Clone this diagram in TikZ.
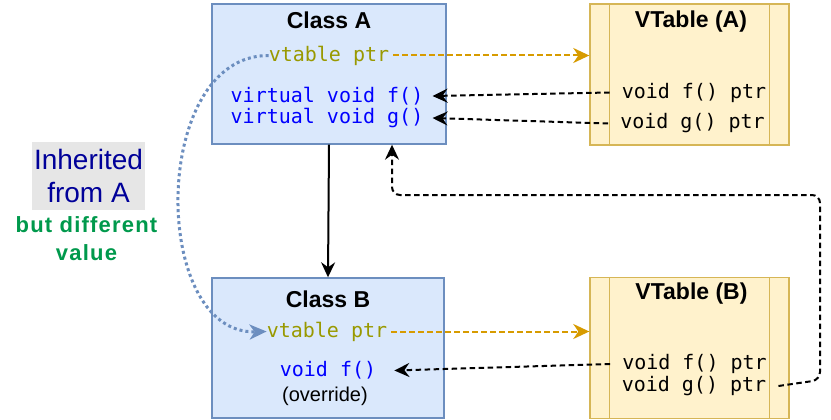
\documentclass[tikz,border=0pt]{standalone}
\usepackage{fontspec}
\setmainfont{Liberation Sans}
\newfontfamily\codefont{DejaVu Sans Mono}
\newfontfamily\spacedfont{Liberation Sans}[LetterSpace=5.5]
\usetikzlibrary{arrows.meta}

\definecolor{boxblue}{HTML}{DAE8FC}
\definecolor{lineblue}{HTML}{6C8EBF}
\definecolor{boxyellow}{HTML}{FFF2CC}
\definecolor{lineyellow}{HTML}{D6B656}
\definecolor{ptrorange}{HTML}{D79B00}
\definecolor{ptrolive}{HTML}{999900}
\definecolor{codeblue}{HTML}{0000FF}
\definecolor{notenavy}{HTML}{000099}
\definecolor{notegray}{HTML}{E6E6E6}
\definecolor{notegreen}{HTML}{00994C}

\begin{document}
\begin{tikzpicture}[x=1pt,y=-1pt,color=black,
  classbox/.style={draw=lineblue,fill=boxblue,line width=1.4pt,minimum height=140pt,inner sep=0pt},
  tablebox/.style={draw=lineyellow,fill=boxyellow,line width=1.4pt,minimum width=199pt,minimum height=141pt,inner sep=0pt},
  boxtitle/.style={font=\fontsize{23}{26}\selectfont\bfseries,inner sep=0pt},
  code/.style={font=\codefont\fontsize{20}{24}\selectfont,inner sep=0pt},
  tableentry/.style={code,inner xsep=12pt},
  ptrarrow/.style={ptrorange,line width=2pt,dash pattern=on 5.5pt off 3.5pt,-{Stealth[length=16pt,width=15pt,inset=5pt]}},
  refarrow/.style={line width=2pt,dash pattern=on 5.5pt off 3.5pt,-{Stealth[length=15pt,width=14pt,inset=5pt]}}
]

\useasboundingbox (0,0) rectangle (831,420);

% boxes
\node (classA) at (329,74)[classbox,minimum width=234pt]{};

\node (classB) at (328,348)[classbox,minimum width=232pt]{};

\node (vtA) at (689.5,74.5)[tablebox]{};

\node (vtB) at (689.5,348)[tablebox]{};

\foreach \t in {vtA,vtB}
{
\draw[lineyellow,line width=1.4pt] ([xshift=20pt]\t.north west) -- ([xshift=20pt]\t.south west);
\draw[lineyellow,line width=1.4pt] ([xshift=-20pt]\t.north east) -- ([xshift=-20pt]\t.south east);
}

% class A
\node (titleA) at (329,20)[boxtitle]{Class A};
\node (ptrA) at (329,55.5)[code,ptrolive]{vtable ptr};
\node (fA) at (327,96)[code,codeblue]{virtual void f()};
\node (gA) at (327,118)[code,codeblue]{virtual void g()};

% class B
\node (titleB) at (328,299)[boxtitle]{Class B};
\node (ptrB) at (327,331.5)[code,ptrolive]{vtable ptr};
\node (fB) at (328,370.5)[code,codeblue]{void f()};
\node (overB) at (325,396.5)[font=\fontsize{20}{24}\selectfont,inner sep=0pt]{(override)};

% vtables
\node (vtitleA) at (691,21.5)[boxtitle]{VTable (A)};
\node (vfA) at (694,92.5)[tableentry]{void f() ptr};
\node (vgA) at (692.5,123.5)[tableentry]{void g() ptr};

\node (vtitleB) at (691.5,294)[boxtitle]{VTable (B)};
\node (vfB) at (694.5,364)[tableentry]{void f() ptr};
\node (vgB) at (694,386)[tableentry]{void g() ptr};

% note
\node (inherit) at (88.5,176)[fill=notegray,text=notenavy,minimum width=113pt,minimum height=68pt,inner sep=0pt,align=center,font=\fontsize{28}{33}\selectfont]{Inherited\\from A};
\node (differ) at (86.5,239)[text=notegreen,inner sep=0pt,align=center,font=\spacedfont\fontsize{22}{28}\selectfont\bfseries]{but different\\value};

% connectors
\draw[line width=2pt,-{Stealth[length=15pt,width=14pt,inset=5pt]}] (classA.south) -- (classB.north);

\draw[ptrarrow] ([xshift=4pt]ptrA.east) -- (ptrA.east -| vtA.west);
\draw[ptrarrow] ([xshift=4pt]ptrB.east) -- (ptrB.east -| vtB.west);

\draw[refarrow] (vfA.west) -- ([xshift=9pt]fA.east);
\draw[refarrow] (vgA.west) -- ([xshift=9pt]gA.east);
\draw[refarrow] (vfB.west) -- ([xshift=18pt]fB.east);
\draw[refarrow,rounded corners=8pt] (vgB.east) -- (820,380) -- (820,195) -- (392,195) -- ([xshift=63pt]classA.south);

\draw[lineblue,line width=3pt,dash pattern=on 3pt off 3pt,-{Stealth[length=17pt,width=15pt,inset=5pt]}] (ptrA.west) .. controls (150,55) and (150,335) .. (ptrB.west);

\end{tikzpicture}
\end{document}
